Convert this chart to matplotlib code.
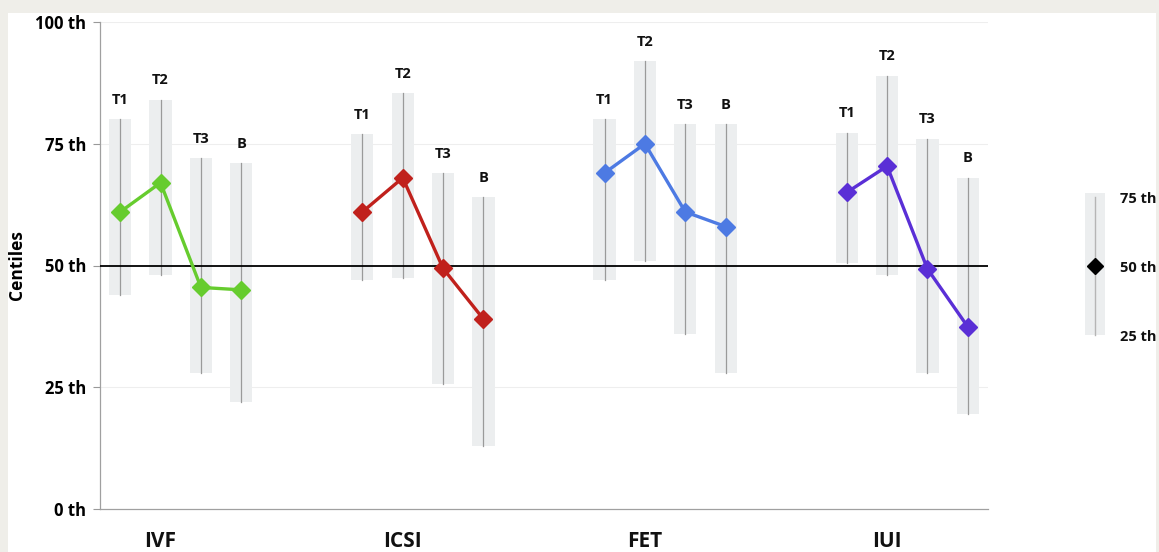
import matplotlib
matplotlib.use("Agg")
import matplotlib.pyplot as plt
from matplotlib.patches import Rectangle

# Treatment groups and time points
groups = ["IVF", "ICSI", "FET", "IUI"]
timepoints = ["T1", "T2", "T3", "B"]
colors = ["#66cc2e", "#c0211c", "#4d7ae3", "#5a2fd6"]

# Centile summaries per group (T1, T2, T3, B)
ivf_median = [61, 67, 45.5, 45]
ivf_p25 = [44, 48, 28, 22]
ivf_p75 = [80, 84, 72, 71]

icsi_median = [61, 68, 49.4, 39]
icsi_p25 = [47, 47.4, 25.6, 13]
icsi_p75 = [77, 85.4, 69, 64]

fet_median = [69, 75, 61, 58]
fet_p25 = [47, 51, 36, 28]
fet_p75 = [80, 92, 79, 79]

iui_median = [65, 70.4, 49.3, 37.4]
iui_p25 = [50.6, 48, 28, 19.6]
iui_p75 = [77.3, 89, 76, 68]

medians = [ivf_median, icsi_median, fet_median, iui_median]
p25s = [ivf_p25, icsi_p25, fet_p25, iui_p25]
p75s = [ivf_p75, icsi_p75, fet_p75, iui_p75]

ytick_values = [0, 25, 50, 75, 100]
ytick_labels = ["0 th", "25 th", "50 th", "75 th", "100 th"]
key_values = [25, 50, 75]
key_labels = ["25 th", "50 th", "75 th"]

FONT = "Open Sans"
band_color = "#eceeef"
stem_color = "#9a9a9a"

fig = plt.figure(figsize=(11.59, 5.52), dpi=100)
fig.patch.set_facecolor("#efeee9")
panel = Rectangle((8 / 1159, 0), (1156 - 8) / 1159, (552 - 13) / 552,
                  transform=fig.transFigure, facecolor="white",
                  edgecolor="none", zorder=-10)
fig.patches.append(panel)

ax = fig.add_axes([100 / 1159, 43 / 552, 888 / 1159, 487 / 552])
ax.set_facecolor("none")
ax.set_zorder(1)

step = 6
for g, name in enumerate(groups):
    xs = [g * step + 0.5 + i for i in range(len(timepoints))]
    for x, lo, hi, lab in zip(xs, p25s[g], p75s[g], timepoints):
        ax.bar(x, hi - lo, bottom=lo, width=0.55, color=band_color, zorder=1)
        ax.plot([x, x], [lo, hi], color=stem_color, lw=0.9, zorder=2)
        ax.annotate(lab, (x, hi), xytext=(0, 14), textcoords="offset points",
                    ha="center", va="center", fontsize=10.5, fontweight="bold",
                    family=FONT, color="#111111")
    ax.plot(xs, medians[g], color=colors[g], lw=2.4, marker="D", markersize=9,
            zorder=4)
    ax.text(xs[1], -0.066, name, transform=ax.get_xaxis_transform(),
            ha="center", va="center", fontsize=15, fontweight="bold",
            family=FONT, color="#111111")

ax.axhline(50, color="black", lw=1.3, zorder=3)
for v in (25, 75, 100):
    ax.axhline(v, color="#eeeeee", lw=0.8, zorder=0)

ax.set_xlim(0, 22)
ax.set_ylim(0, 100)
ax.set_xticks([])
ax.set_yticks(ytick_values)
ax.set_yticklabels(ytick_labels, fontsize=12, fontweight="bold", family=FONT)
ax.tick_params(axis="y", length=5, color="#999999", pad=5)
for s in ("top", "right"):
    ax.spines[s].set_visible(False)
for s in ("left", "bottom"):
    ax.spines[s].set_color("#a0a0a0")
    ax.spines[s].set_linewidth(0.9)
ax.set_ylabel("Centiles", fontsize=12.5, fontweight="bold", family=FONT)
ax.yaxis.set_label_coords(-74 / 888, 0.5)

# Key showing how the bands read
kx = fig.add_axes([1075 / 1159, 148 / 552, 40 / 1159, 276 / 552])
kx.set_zorder(1)
kx.set_xlim(0, 1)
kx.set_ylim(0, 100)
kx.axis("off")
kx.bar(0.5, key_values[2] - key_values[0] + 1.5, bottom=key_values[0], width=0.5,
       color=band_color)
kx.plot([0.5, 0.5], [key_values[0], key_values[2]], color="#b5b5b5", lw=1)
kx.plot([0.5], [key_values[1]], marker="D", color="black", markersize=8.5)
for v, lab in zip(key_values, key_labels):
    kx.text(1.12, v - 0.8, lab, ha="left", va="center", fontsize=10.5,
            fontweight="bold", family=FONT, color="#111111", clip_on=False)

fig.savefig("out.png", dpi=100, facecolor=fig.get_facecolor())
